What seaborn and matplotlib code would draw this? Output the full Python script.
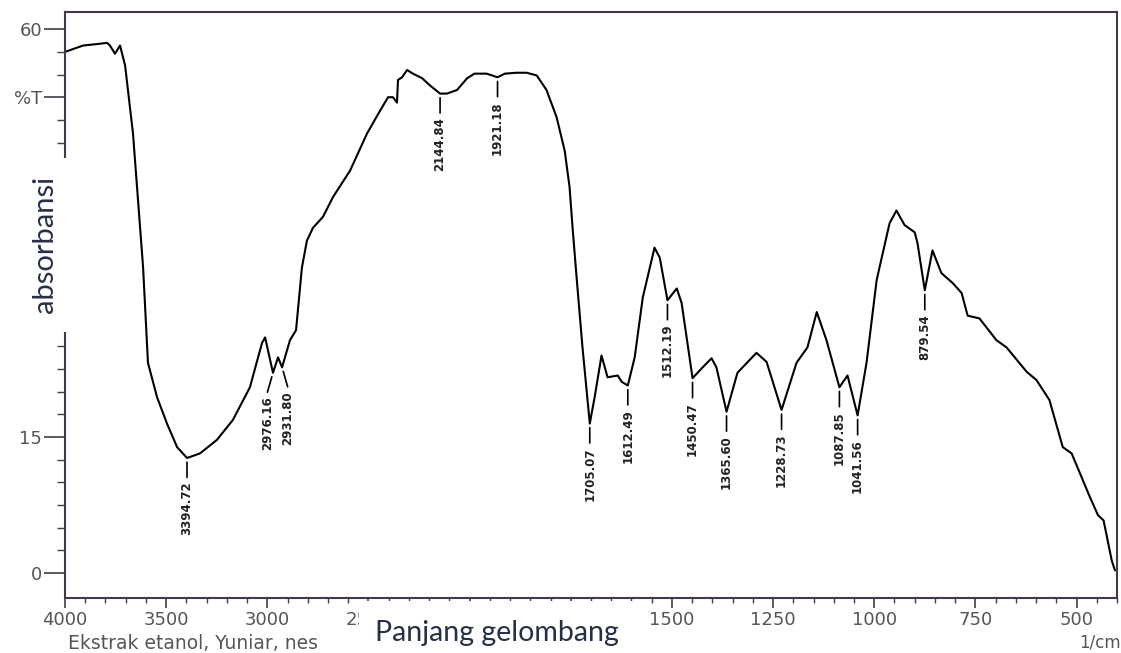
import numpy as np
import pandas as pd
import seaborn as sns
import matplotlib
matplotlib.use("Agg")
import matplotlib.pyplot as plt
from matplotlib.patches import Rectangle
from matplotlib.ticker import FixedLocator

# spektrum FTIR (bilangan gelombang 1/cm, %T)
wavenumber = [4000, 3911, 3827, 3792, 3778, 3753, 3728, 3703, 3689, 3664,
              3639, 3614, 3590, 3545, 3496, 3446, 3397, 3333, 3249, 3170,
              3086, 3026, 3011, 2997, 2972, 2947, 2927, 2888, 2858, 2829,
              2804, 2774, 2725, 2675, 2591, 2507, 2443, 2403, 2379, 2359,
              2354, 2334, 2309, 2280, 2235, 2196, 2146, 2112, 2062, 2012,
              1988, 1958, 1931, 1913, 1884, 1859, 1834, 1810, 1785, 1765,
              1753, 1745, 1735, 1721, 1703, 1691, 1674, 1659, 1634, 1624,
              1609, 1592, 1572, 1543, 1530, 1511, 1488, 1476, 1449, 1424,
              1402, 1390, 1365, 1338, 1291, 1266, 1229, 1192, 1165, 1142,
              1118, 1086, 1066, 1041, 1019, 994, 987, 962, 945, 925,
              900, 893, 875, 856, 834, 806, 784, 769, 740, 698,
              673, 623, 599, 567, 534, 512, 467, 447, 433, 423,
              413, 405]
transmittance = [57.5, 58.2, 58.4, 58.5, 58.2, 57.3, 58.2, 56.0, 53.3, 48.5,
                 41.1, 33.7, 23.2, 19.4, 16.5, 13.9, 12.7, 13.2, 14.7, 16.9,
                 20.5, 25.4, 26.0, 24.6, 22.1, 23.8, 22.7, 25.7, 26.8, 33.7,
                 36.7, 38.1, 39.3, 41.5, 44.4, 48.5, 51.0, 52.5, 52.5, 51.9,
                 54.4, 54.7, 55.5, 55.1, 54.6, 53.8, 52.9, 52.9, 53.3, 54.6,
                 55.1, 55.1, 54.7, 55.1, 55.2, 55.2, 54.9, 53.3, 50.3, 46.6,
                 42.6, 37.8, 32.3, 24.9, 16.5, 19.4, 24.0, 21.6, 21.8, 21.1,
                 20.7, 23.8, 30.4, 35.9, 34.8, 30.1, 31.4, 29.8, 21.5, 22.7,
                 23.7, 22.7, 17.8, 22.1, 24.3, 23.3, 18.0, 23.2, 24.9, 28.8,
                 25.7, 20.5, 21.8, 17.4, 23.2, 32.3, 33.7, 38.6, 40.0, 38.4,
                 37.6, 36.4, 31.2, 35.6, 33.1, 32.0, 30.9, 28.4, 28.1, 25.7,
                 24.9, 22.2, 21.3, 19.1, 13.9, 13.2, 8.4, 6.4, 5.8, 3.6,
                 1.4, 0.3]

# puncak yang diberi label
peak_text = ["3394.72", "2976.16", "2931.80", "2144.84", "1921.18", "1705.07",
             "1612.49", "1512.19", "1450.47", "1365.60", "1228.73", "1087.85",
             "1041.56", "879.54"]
peak_pos = [3397, 2972, 2927, 2146, 1931, 1703, 1609, 1511, 1449, 1365,
            1229, 1086, 1041, 875]
peak_dx = [0, -4, 4, 0, 0, 0, 0, 0, 0, 0, 0, 0, 0, 0]

x_ticks = [4000, 3500, 3000, 2500, 2000, 1750, 1500, 1250, 1000, 750, 500]
x_labels = ["4000", "3500", "3000", "2500", "", "", "1500", "1250", "1000",
            "750", "500"]
y_ticks = [0, 15, 30, 45, 52.5, 60]
y_labels = ["0", "15", "", "45", "%T", "60"]

df = pd.DataFrame({"wn": wavenumber, "T": transmittance})


def fwd(w):
    w = np.asarray(w, dtype=float)
    return np.where(w >= 2000, 1.6 + (w - 2000) / 2000, (w - 400) / 1000)


def inv(u):
    u = np.asarray(u, dtype=float)
    return np.where(u >= 1.6, 2000 + (u - 1.6) * 2000, 400 + u * 1000)


sns.set_style("white")
plt.rcParams["font.family"] = ["DejaVu Sans"]

fig = plt.figure(figsize=(11.21, 6.53), dpi=100)
ax = fig.add_axes([0.058, 0.0842, 0.9384, 0.8974])
frame = "#43394b"

sns.lineplot(data=df, x="wn", y="T", ax=ax, color="black", lw=1.5,
             estimator=None, sort=True)

ax.set_xscale("function", functions=(fwd, inv))
ax.set_xlim(4000, 400)
ax.set_ylim(-2.75, 61.9)

ax.xaxis.set_major_locator(FixedLocator(x_ticks))
ax.set_xticklabels(x_labels)
minor_x = list(np.arange(4000, 2000, -100)) + list(np.arange(2000, 399, -50))
ax.xaxis.set_minor_locator(FixedLocator(minor_x))
ax.yaxis.set_major_locator(FixedLocator(y_ticks))
ax.set_yticklabels(y_labels)
ax.yaxis.set_minor_locator(FixedLocator(list(np.arange(0, 61, 2.5))))

ax.tick_params(which="both", bottom=True, left=True, top=False, right=False)
ax.tick_params(axis="x", which="major", direction="out", length=7, width=1.2,
               color=frame, labelsize=13, labelcolor="#555555", pad=2)
ax.tick_params(axis="x", which="minor", direction="out", length=3.5, width=1,
               color=frame)
ax.tick_params(axis="y", which="major", direction="out", length=15, width=1.2,
               color=frame, labelsize=13, labelcolor="#555555", pad=1.5)
ax.tick_params(axis="y", which="minor", direction="out", length=6, width=1,
               color=frame)
ax.set_xlabel("")
ax.set_ylabel("")
for s in ax.spines.values():
    s.set_color(frame)
    s.set_linewidth(1.5)
    s.set_visible(True)

# label puncak
for txt, w, dx in zip(peak_text, peak_pos, peak_dx):
    v = np.interp(w, wavenumber[::-1], transmittance[::-1])
    ax.annotate("", xy=(w, v), xytext=(dx, -14), textcoords="offset points",
                arrowprops=dict(arrowstyle="-", color="black", lw=1.2,
                                shrinkA=0, shrinkB=3))
    ax.annotate(txt, xy=(w, v), xytext=(dx, -17), textcoords="offset points",
                rotation=90, ha="center", va="top", fontsize=8.5,
                fontweight="bold", color="#222222")

fig.text(0.061, 0.015, "Ekstrak etanol, Yuniar, nes", fontsize=13.5,
         color="#555555", ha="left", va="center")
fig.text(1.0, 0.016, "1/cm", fontsize=12, color="#555555",
         ha="right", va="center")

# kotak putih dengan label sumbu
fig.add_artist(Rectangle((0, 0.4916), 67 / 1121, 174 / 653,
                         transform=fig.transFigure, facecolor="white",
                         edgecolor="none", zorder=10))
fig.text(0.040, 0.625, "absorbansi", rotation=90, fontsize=21,
         family=["Lato", "DejaVu Sans"], color="#262f45",
         ha="center", va="center", zorder=11)
fig.add_artist(Rectangle((359 / 1121, 0), 281 / 1121, 52 / 653,
                         transform=fig.transFigure, facecolor="white",
                         edgecolor="none", zorder=10))
fig.text(375 / 1121, 0.031, "Panjang gelombang", fontsize=20.5,
         family=["Lato", "DejaVu Sans"], color="#262f45",
         ha="left", va="center", zorder=11)

fig.savefig("out.png", dpi=100)
